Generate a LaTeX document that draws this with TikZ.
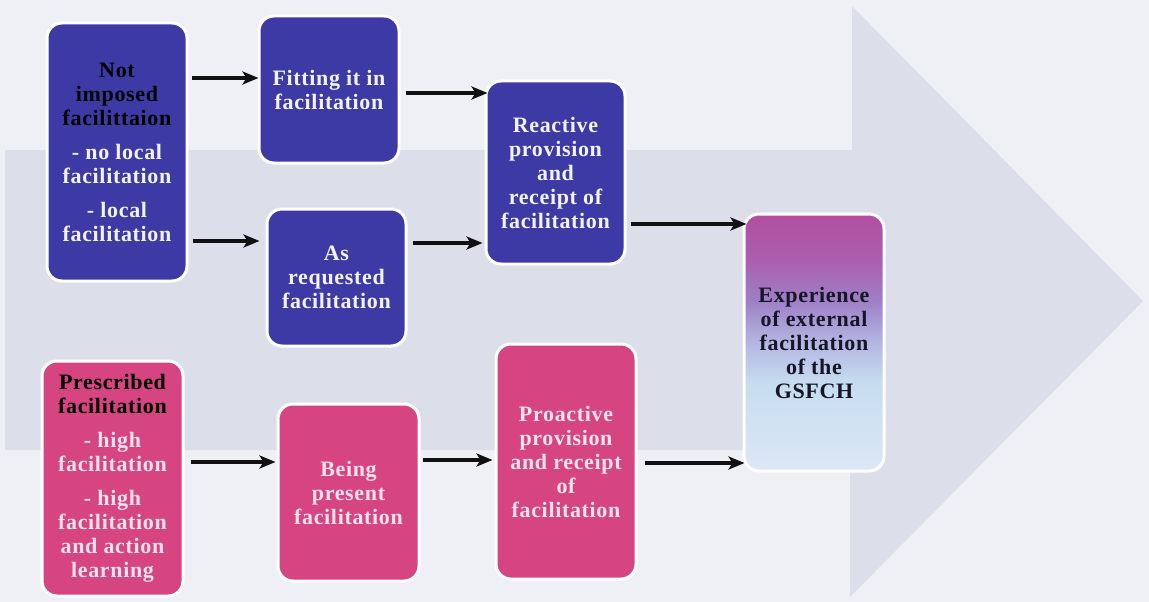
\documentclass[tikz,border=0pt]{standalone}
\usepackage{fontspec}
\setmainfont{Liberation Serif}[LetterSpace=3.0]
\usetikzlibrary{arrows.meta}

\definecolor{pagebg}{HTML}{EFEFF6}
\definecolor{arrowbg}{HTML}{DCDFEA}
\definecolor{boxblue}{HTML}{3D3AA6}
\definecolor{boxpink}{HTML}{D64482}
\definecolor{pinktext}{HTML}{F8E2EC}
\definecolor{bluetext}{HTML}{F2F2FA}
\definecolor{darktext}{HTML}{161628}
\definecolor{linkcol}{HTML}{111114}
\definecolor{expA}{HTML}{B24EA0}
\definecolor{expB}{HTML}{AC5EAE}
\definecolor{expC}{HTML}{9E80C6}
\definecolor{expD}{HTML}{B4B6E2}
\definecolor{expE}{HTML}{C6DDF0}
\definecolor{expF}{HTML}{DDE7F5}

% vertical shading of the final box; the box spans 25bp (bottom) to 75bp (top)
\pgfdeclareverticalshading{expshade}{100bp}{%
  color(0bp)=(expF); color(25bp)=(expF); color(42bp)=(expE);
  color(50bp)=(expD); color(58bp)=(expC); color(66bp)=(expB);
  color(75bp)=(expA); color(100bp)=(expA)}

\newcommand{\hd}[1]{\textcolor{black}{#1}}

\begin{document}
\begin{tikzpicture}[x=1pt,y=-1pt,
  box/.style={draw=white, line width=3pt, rounded corners=15pt,
    align=center, inner sep=0pt,
    font=\bfseries\fontsize{22}{24}\selectfont},
  bluebox/.style={box, fill=boxblue, text=bluetext},
  pinkbox/.style={box, fill=boxpink, text=pinktext},
  expbox/.style={box, shading=expshade, text=darktext},
  link/.style={draw=linkcol, line width=4pt,
    -{Stealth[length=16pt,width=13pt,inset=4pt]}}]

% page and the large background arrow
\fill[pagebg] (0,0) rectangle (1149,602);
\useasboundingbox (0,0) rectangle (1149,602);
\fill[arrowbg] (5,150) -- (852,150) -- (852,6) -- (1143,301)
  -- (850,597) -- (850,450) -- (5,450) -- cycle;

% boxes
\node[bluebox, minimum width=140pt, minimum height=258pt] (A) at (117,152)
  {\hd{Not}\\\hd{imposed}\\\hd{facilittaion}\\[10pt]
   - no local\\facilitation\\[10pt]- local\\facilitation};
\node[bluebox, minimum width=140pt, minimum height=147pt] (B) at (329,89.5)
  {Fitting it in\\facilitation};
\node[bluebox, minimum width=139pt, minimum height=137pt] (C) at (336.5,277.5)
  {As\\requested\\facilitation};
\node[bluebox, minimum width=139pt, minimum height=183pt] (D) at (555.5,172.5)
  {Reactive\\provision\\and\\receipt of\\facilitation};
\node[expbox, minimum width=140pt, minimum height=257pt] (E) at (814,342.5)
  {Experience\\of external\\facilitation\\of the\\GSFCH};
\node[pinkbox, minimum width=141pt, minimum height=235pt] (F) at (112.5,478.5)
  {\hd{Prescribed}\\\hd{facilitation}\\[10pt]
   - high\\facilitation\\[10pt]- high\\facilitation\\and action\\learning};
\node[pinkbox, minimum width=141pt, minimum height=177pt] (G) at (348.5,492.5)
  {Being\\present\\facilitation};
\node[pinkbox, minimum width=140pt, minimum height=235pt] (H) at (566,461.5)
  {Proactive\\provision\\and receipt\\of\\facilitation};

% connector levels
\coordinate (yAB) at (0,78);
\coordinate (yAC) at (0,241);
\coordinate (yBD) at (0,93);
\coordinate (yCD) at (0,243);
\coordinate (yDE) at (0,224);
\coordinate (yFG) at (0,462);
\coordinate (yGH) at (0,460);
\coordinate (yHE) at (0,463);

% connectors
\draw[link, shorten <=3pt, shorten >=-1pt] (A.east |- yAB) -- (B.west |- yAB);
\draw[link, shorten <=4pt, shorten >=6pt] (A.east |- yAC) -- (C.west |- yAC);
\draw[link, shorten <=5pt, shorten >=-3pt] (B.east |- yBD) -- (D.west |- yBD);
\draw[link, shorten <=5pt, shorten >=2pt] (C.east |- yCD) -- (D.west |- yCD);
\draw[link, shorten <=4pt, shorten >=-4pt] (D.east |- yDE) -- (E.west |- yDE);
\draw[link, shorten <=6pt, shorten >=1pt] (F.east |- yFG) -- (G.west |- yFG);
\draw[link, shorten <=2pt, shorten >=2pt] (G.east |- yGH) -- (H.west |- yGH);
\draw[link, shorten <=7pt, shorten >=-2pt] (H.east |- yHE) -- (E.west |- yHE);
\end{tikzpicture}
\end{document}
